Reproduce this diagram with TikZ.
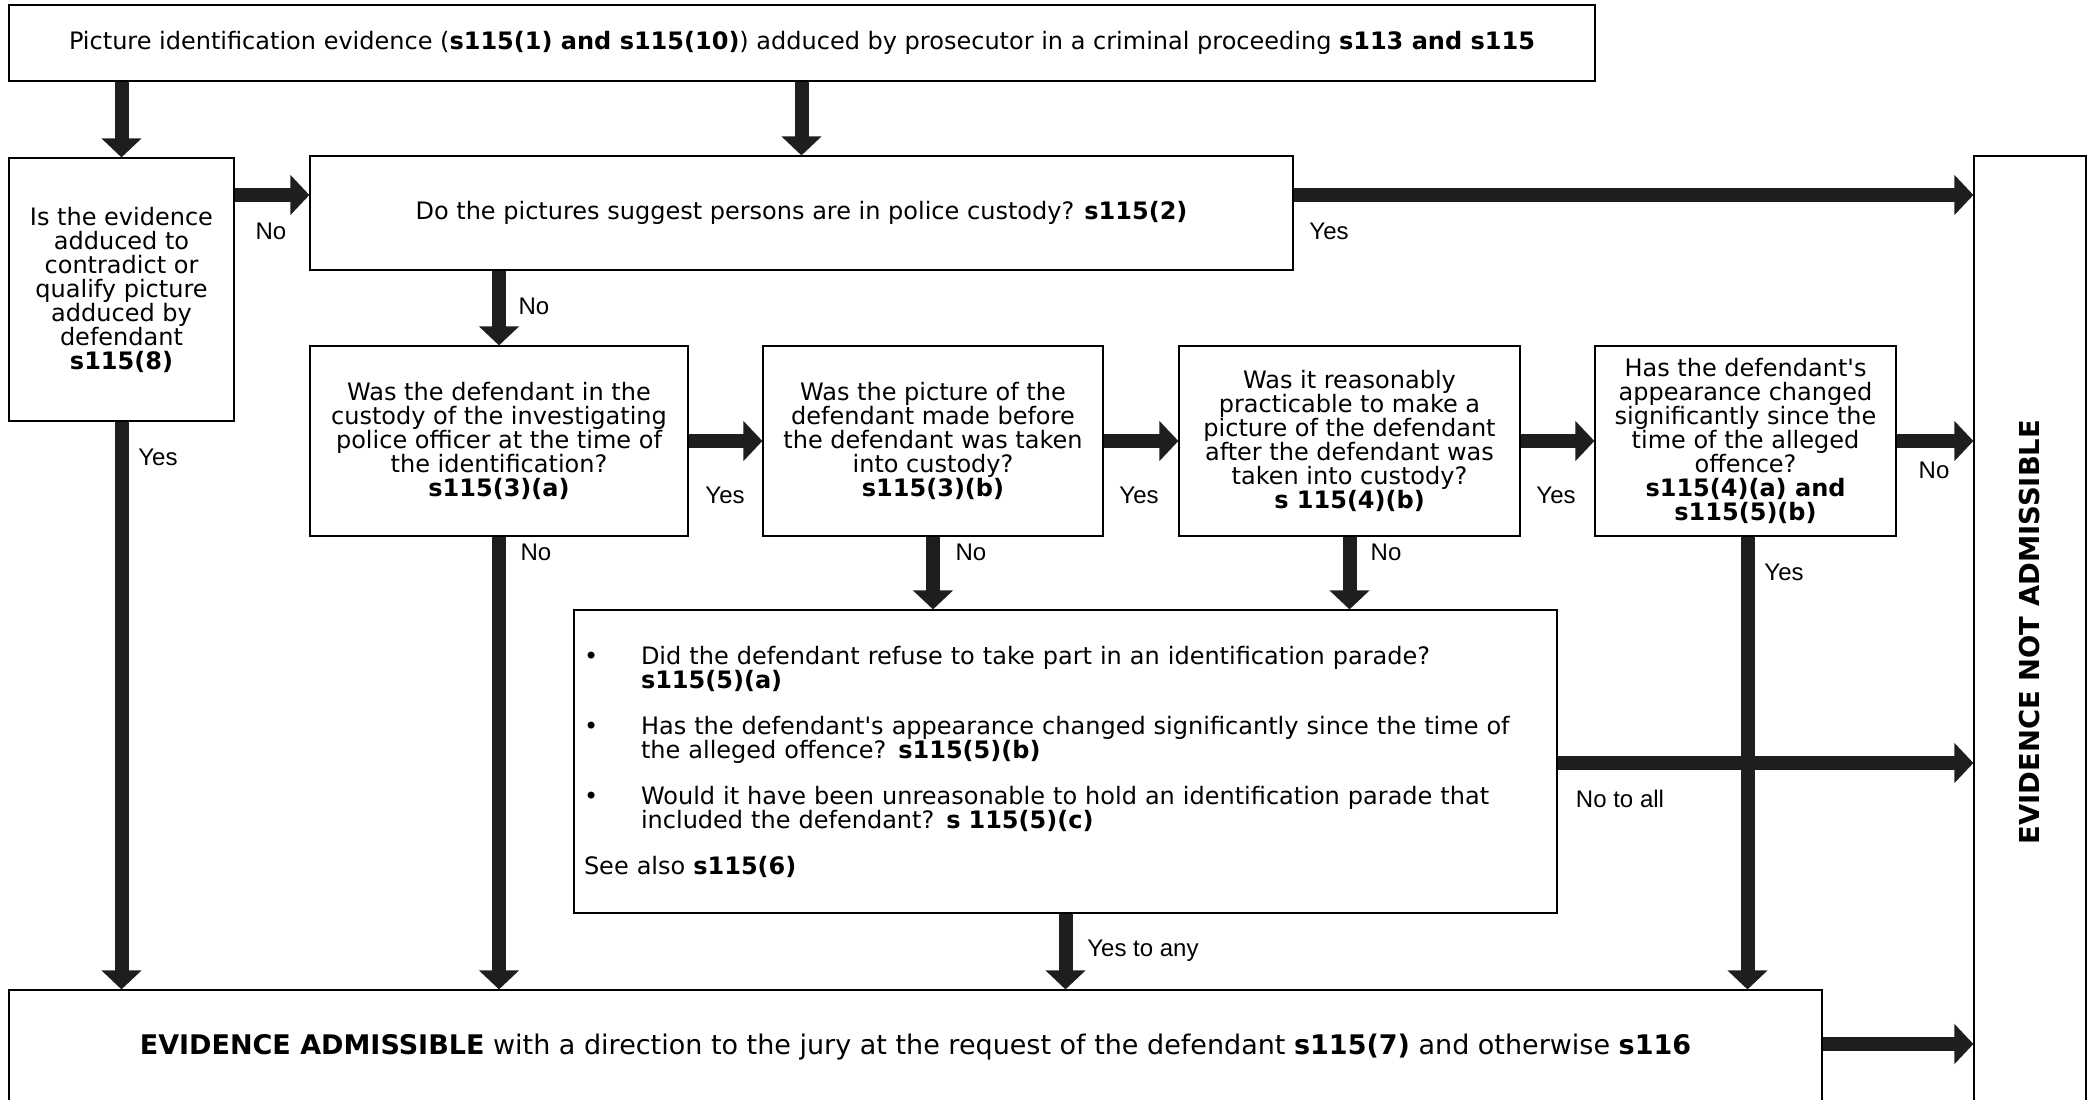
\documentclass[tikz,border=0pt]{standalone}
\usepackage{fontspec}
\setmainfont{DejaVu Sans}
\newfontfamily\lblfont{Liberation Sans}
\usetikzlibrary{arrows.meta}
\definecolor{arrowgray}{HTML}{1E1E1E}

\begin{document}
\begin{tikzpicture}[
    x=0.5pt, y=-0.5pt,
    box/.style={draw=black, line width=0.6pt, fill=white, inner sep=0pt, align=center,
        font=\fontsize{12}{12}\selectfont},
    flow/.style={draw=arrowgray, line width=7pt, -{Triangle[width=19.5pt,length=9.5pt]}},
    lbl/.style={font=\lblfont\fontsize{12}{14}\selectfont, inner sep=0pt}
]
\useasboundingbox (0,0) rectangle (2094,1099);
\clip (0,0) rectangle (2094,1099);

% Row levels for the arrows into the right hand box
\coordinate (r1) at (0,195);
\coordinate (r2) at (0,441);
\coordinate (r3) at (0,763);
\coordinate (r4) at (0,1044);

% Start
\node[box, minimum width=793pt, minimum height=38pt] (top) at (802,43)
    {Picture identification evidence (\textbf{s115(1) and s115(10)}) adduced by prosecutor in a criminal proceeding \textbf{s113 and s115}};

% First questions
\node[box, minimum width=112.5pt, minimum height=131.5pt] (evid) at (121.5,289.5)
    {Is the evidence\\adduced to\\contradict or\\qualify picture\\adduced by\\defendant\\\textbf{s115(8)}};
\node[box, minimum width=491.5pt, minimum height=57pt] (pics) at (801.5,213)
    {Do the pictures suggest persons are in police custody? \textbf{s115(2)}};

% Custody questions
\node[box, minimum width=189pt, minimum height=95pt] (cust) at (499,441)
    {Was the defendant in the\\custody of the investigating\\police officer at the time of\\the identification?\\\textbf{s115(3)(a)}};
\node[box, minimum width=170pt, minimum height=95pt] (before) at (933,441)
    {Was the picture of the\\defendant made before\\the defendant was taken\\into custody?\\\textbf{s115(3)(b)}};
\node[box, minimum width=170.5pt, minimum height=95pt] (after) at (1349.5,441)
    {Was it reasonably\\practicable to make a\\picture of the defendant\\after the defendant was\\taken into custody?\\\textbf{s 115(4)(b)}};
\node[box, minimum width=150.5pt, minimum height=95pt] (change) at (1745.5,441)
    {Has the defendant\textquotesingle s\\appearance changed\\significantly since the\\time of the alleged\\offence?\\\textbf{s115(4)(a) and}\\\textbf{s115(5)(b)}};

% Parade questions
\node[box, text width=481.5pt, inner xsep=5pt, minimum height=151.5pt, align=left] (parade) at (1065.5,761.5)
    {\makebox[28.5pt][l]{\textbullet}Did the defendant refuse to take part in an identification parade?\\
     \hspace*{28.5pt}\textbf{s115(5)(a)}\\[11pt]
     \makebox[28.5pt][l]{\textbullet}Has the defendant\textquotesingle s appearance changed significantly since the time of\\
     \hspace*{28.5pt}the alleged offence? \textbf{s115(5)(b)}\\[11pt]
     \makebox[28.5pt][l]{\textbullet}Would it have been unreasonable to hold an identification parade that\\
     \hspace*{28.5pt}included the defendant? \textbf{s 115(5)(c)}\\[11pt]
     See also \textbf{s115(6)}};

% Outcomes
\node[box, minimum width=906.5pt, minimum height=57pt] (adm) at (915.5,1047)
    {\fontsize{13.5}{15}\selectfont\textbf{EVIDENCE ADMISSIBLE} with a direction to the jury at the request of the defendant \textbf{s115(7)} and otherwise \textbf{s116}};
\node[box, minimum width=56pt, minimum height=476pt] (notadm) at (2030,632)
    {\rotatebox{90}{\fontsize{13.7}{15}\selectfont\textbf{EVIDENCE NOT ADMISSIBLE}}};

% Connections
\draw[flow] (top.south -| evid.north) -- (evid.north);
\draw[flow] (top.south -| pics.north) -- (pics.north);
\draw[flow] (evid.east |- r1) -- (pics.west |- r1);
\draw[flow] (pics.east |- r1) -- (notadm.west |- r1);
\draw[flow] (pics.south -| cust.north) -- (cust.north);

\foreach \a/\b in {cust/before, before/after, after/change} {
    \draw[flow] (\a.east |- r2) -- (\b.west |- r2);
}
\draw[flow] (change.east |- r2) -- (notadm.west |- r2);

\foreach \n in {before, after} {
    \draw[flow] (\n.south) -- (\n.south |- parade.north);
}

\foreach \n in {evid, cust, parade} {
    \draw[flow] (\n.south) -- (\n.south |- adm.north);
}
\draw[flow] ([xshift=1pt]change.south) -- ([xshift=1pt]change.south |- adm.north);
\draw[flow] (parade.east |- r3) -- (notadm.west |- r3);
\draw[flow] (adm.east |- r4) -- (notadm.west |- r4);

% Labels
\node[lbl] (no1) at (271,231) {No};
\node[lbl] (yes1) at (1329,231) {Yes};
\node[lbl] (no2) at (534,306) {No};
\node[lbl] (yes2) at (158,457) {Yes};
\node[lbl] (yes3) at (725,495) {Yes};
\node[lbl] (yes4) at (1139,495) {Yes};
\node[lbl] (yes5) at (1556,495) {Yes};
\node[lbl] (no3) at (1934,470) {No};
\node[lbl] (no4) at (536,552) {No};
\node[lbl] (no5) at (971,552) {No};
\node[lbl] (no6) at (1386,552) {No};
\node[lbl] (yes6) at (1784,572) {Yes};
\node[lbl] (noall) at (1620,799) {No to all};
\node[lbl] (yesany) at (1143,951) {Yes to any};
\end{tikzpicture}
\end{document}
